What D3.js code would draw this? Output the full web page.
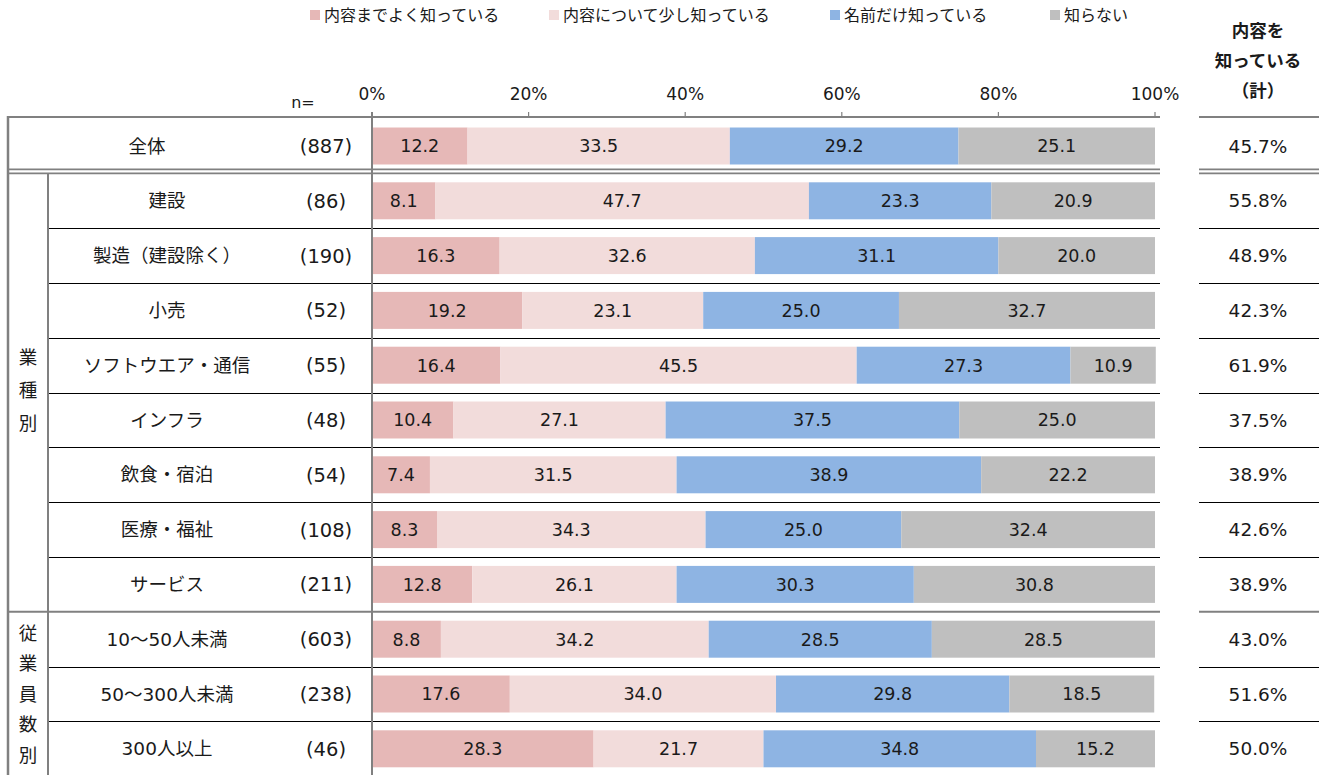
<!DOCTYPE html>
<html><head><meta charset="utf-8">
<script src="https://cdn.jsdelivr.net/npm/d3@7"></script>
<style>
body{margin:0;background:#fff;}
text{font-family:"DejaVu Sans","Noto Sans CJK JP",sans-serif;fill:#1a1a1a;}
</style></head>
<body><svg id="c" width="1324" height="775"></svg>
<script>
const categories = ["全体","建設","製造（建設除く）","小売","ソフトウエア・通信","インフラ","飲食・宿泊","医療・福祉","サービス","10～50人未満","50～300人未満","300人以上"];
const nLabels = ["(887)","(86)","(190)","(52)","(55)","(48)","(54)","(108)","(211)","(603)","(238)","(46)"];
const seriesNames = ["内容までよく知っている","内容について少し知っている","名前だけ知っている","知らない"];
const s1 = [12.2,8.1,16.3,19.2,16.4,10.4,7.4,8.3,12.8,8.8,17.6,28.3];
const s2 = [33.5,47.7,32.6,23.1,45.5,27.1,31.5,34.3,26.1,34.2,34.0,21.7];
const s3 = [29.2,23.3,31.1,25.0,27.3,37.5,38.9,25.0,30.3,28.5,29.8,34.8];
const s4 = [25.1,20.9,20.0,32.7,10.9,25.0,22.2,32.4,30.8,28.5,18.5,15.2];
const knowTotal = ["45.7%","55.8%","48.9%","42.3%","61.9%","37.5%","38.9%","42.6%","38.9%","43.0%","51.6%","50.0%"];
const tickValues = [0,20,40,60,80,100];
const groupLabels = [{text:"業種別", from:1, to:8},{text:"従業員数別", from:9, to:11}];
const colors = ["#E6B8B7","#F2DCDB","#8EB4E3","#BFBFBF"];

const svg = d3.select("#c");
const x = d3.scaleLinear().domain([0,100]).range([372,1155]);
const y = d3.scaleBand().domain(categories).range([118.6,776.2]).paddingInner(0.325).paddingOuter(0.1625);
const step = y.step();
const rowTop = c => y(c) - y.paddingOuter()*step;
const series = [s1,s2,s3,s4];

// bars
const stackData = categories.map((c,i)=>{ let acc=0; return series.map((s,k)=>{const v=s[i]; const o={cat:c,k,x0:acc,x1:acc+v,v}; acc+=v; return o;}); }).flat();
svg.append("g").selectAll("rect").data(stackData).join("rect")
  .attr("x",d=>x(d.x0)).attr("width",d=>x(d.x1)-x(d.x0))
  .attr("y",d=>y(d.cat)).attr("height",y.bandwidth())
  .attr("fill",d=>colors[d.k]);
svg.append("g").selectAll("text").data(stackData).join("text")
  .attr("x",d=>(x(d.x0)+x(d.x1))/2).attr("y",d=>y(d.cat)+y.bandwidth()/2)
  .attr("dy","0.36em").attr("text-anchor","middle").style("font-size","17.5px")
  .text(d=>d.v.toFixed(1));

// lines
const G="#808080";
function hline(yy,x1,x2,color,w){svg.append("line").attr("x1",x1).attr("x2",x2).attr("y1",yy).attr("y2",yy).attr("stroke",color).attr("stroke-width",w);}
function vline(xx,y1,y2,color,w){svg.append("line").attr("x1",xx).attr("x2",xx).attr("y1",y1).attr("y2",y2).attr("stroke",color).attr("stroke-width",w);}
// top line
hline(117,7,1160,G,2); hline(117,1199,1319,G,2);
// double after 全体
const b1 = rowTop(categories[1]);
[b1-4,b1].forEach(v=>{hline(v,7,1160,G,1.6); hline(v,1199,1319,G,1.6);});
// group separator
const b9 = rowTop(categories[9]);
hline(b9,7,1160,G,2); hline(b9,1199,1319,G,2);
// thin black separators inside groups
categories.forEach((c,i)=>{ if(i>=2 && i!==9){ const v=Math.round(rowTop(c))+0.5; hline(v,48,1160,"#000",1.2); hline(v,1199,1319,"#000",1.2);} });
// vertical lines
vline(8,116,775,G,2.5);
vline(48,b1,775,G,2);
vline(x(0),112,775,G,2);

// x axis ticks and labels
svg.append("g").selectAll("line").data(tickValues).join("line")
  .attr("x1",d=>x(d)).attr("x2",d=>x(d)).attr("y1",112).attr("y2",117).attr("stroke",G).attr("stroke-width",1.2);
svg.append("g").selectAll("text").data(tickValues).join("text")
  .attr("x",d=>x(d)).attr("y",100).attr("text-anchor","middle").style("font-size","17px")
  .text(d=>d+"%");
svg.append("text").attr("x",303).attr("y",108).attr("text-anchor","middle").style("font-size","16px").text("n=");

// category labels
svg.append("g").selectAll("text").data(categories).join("text")
  .attr("x",(d,i)=>i===0?147:167).attr("y",d=>y(d)+y.bandwidth()/2).attr("dy","0.36em")
  .attr("text-anchor","middle").style("font-size","18.5px").text(d=>d);
svg.append("g").selectAll("text").data(nLabels).join("text")
  .attr("x",326).attr("y",(d,i)=>y(categories[i])+y.bandwidth()/2).attr("dy","0.36em")
  .attr("text-anchor","middle").style("font-size","19.5px").text(d=>d);
// right column
svg.append("g").selectAll("text").data(knowTotal).join("text")
  .attr("x",1258).attr("y",(d,i)=>y(categories[i])+y.bandwidth()/2).attr("dy","0.36em")
  .attr("text-anchor","middle").style("font-size","18.5px").text(d=>d);
["内容を","知っている","（計）"].forEach((t,i)=>{
  svg.append("text").attr("x",1258).attr("y",31+i*30).attr("dy","0.36em").attr("text-anchor","middle")
    .style("font-size","17.5px").style("font-weight","bold").text(t);
});
// group labels vertical
groupLabels.forEach((g,gi)=>{
  const top=rowTop(categories[g.from]), bot=Math.min(rowTop(categories[g.to])+step,775);
  const mid = gi===0 ? (top+bot)/2 - 2 : 694;
  const sp = gi===0 ? 33 : 30.5;
  const chars=[...g.text];
  chars.forEach((ch,j)=>{
    svg.append("text").attr("x",28).attr("y",mid+(j-(chars.length-1)/2)*sp).attr("dy","0.36em")
      .attr("text-anchor","middle").style("font-size","18.5px").text(ch);
  });
});

// legend
const legX=[310,549,830,1050];
const leg=svg.append("g");
seriesNames.forEach((n,i)=>{
  leg.append("rect").attr("x",legX[i]).attr("y",10).attr("width",10).attr("height",10).attr("fill",colors[i]);
  leg.append("text").attr("x",legX[i]+14).attr("y",15).attr("dy","0.36em").style("font-size","16px").text(n);
});
</script></body></html>
